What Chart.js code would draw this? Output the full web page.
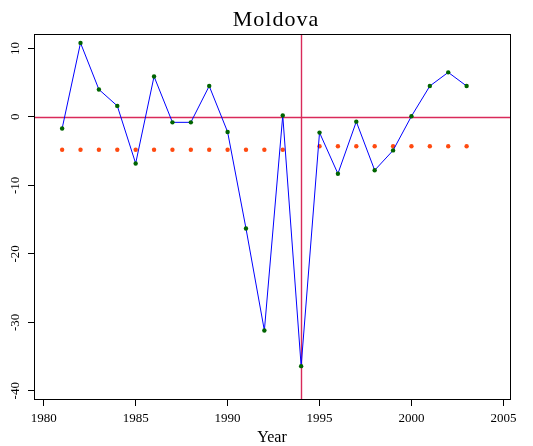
<!DOCTYPE html>
<html>
<head>
<meta charset="utf-8">
<script src="https://cdn.jsdelivr.net/npm/chart.js@4/dist/chart.umd.min.js"></script>
<style>
  html, body { margin: 0; padding: 0; background: #fff; }
  #wrap { width: 533px; height: 446px; }
</style>
</head>
<body>
<div id="wrap"><canvas id="c" width="533" height="446"></canvas></div>
<script>
// Annual growth series, Moldova
const chartTitle = 'Moldova';
const years = [1981, 1982, 1983, 1984, 1985, 1986, 1987, 1988, 1989, 1990, 1991, 1992,
               1993, 1994, 1995, 1996, 1997, 1998, 1999, 2000, 2001, 2002, 2003];
const growth = [-1.7, 10.8, 4.0, 1.6, -6.8, 5.9, -0.8, -0.8, 4.5, -2.2, -16.3, -31.2,
                0.2, -36.4, -2.3, -8.3, -0.7, -7.8, -4.9, 0.1, 4.5, 6.5, 4.5];

// Period averages before and after the break year
const yearsBefore = [1981, 1982, 1983, 1984, 1985, 1986, 1987, 1988, 1989, 1990, 1991, 1992, 1993];
const meanBefore = [-4.8, -4.8, -4.8, -4.8, -4.8, -4.8, -4.8, -4.8, -4.8, -4.8, -4.8, -4.8, -4.8];
const yearsAfter = [1995, 1996, 1997, 1998, 1999, 2000, 2001, 2002, 2003];
const meanAfter = [-4.3, -4.3, -4.3, -4.3, -4.3, -4.3, -4.3, -4.3, -4.3];

const breakYear = 1994;
const xTicks = [1980, 1985, 1990, 1995, 2000, 2005];
const yTicks = [-40, -30, -20, -10, 0, 10];

const serif = 'Liberation Serif, Times New Roman, serif';

const toPoints = (xs, ys) => xs.map((x, i) => ({ x: x, y: ys[i] }));

// Red reference lines: zero growth and the break year
const refLines = {
  id: 'refLines',
  beforeDatasetsDraw(chart) {
    const { ctx, chartArea: a, scales: { x, y } } = chart;
    ctx.save();
    ctx.beginPath();
    ctx.rect(a.left, a.top, a.right - a.left, a.bottom - a.top);
    ctx.clip();
    ctx.strokeStyle = '#d92a5a';
    ctx.lineWidth = 1.4;
    const px = Math.round(x.getPixelForValue(breakYear)) + 0.5;
    const py = Math.round(y.getPixelForValue(0)) + 0.5;
    ctx.beginPath();
    ctx.moveTo(px, a.top); ctx.lineTo(px, a.bottom);
    ctx.moveTo(a.left, py); ctx.lineTo(a.right, py);
    ctx.stroke();
    ctx.restore();
  }
};

// Box around the plot region and the heading
const frameAndTitle = {
  id: 'frameAndTitle',
  afterDraw(chart) {
    const { ctx, chartArea: a } = chart;
    ctx.save();
    ctx.strokeStyle = '#000';
    ctx.lineWidth = 1;
    ctx.strokeRect(Math.round(a.left) + 0.5, Math.round(a.top) + 0.5,
                   Math.round(a.right - a.left), Math.round(a.bottom - a.top));
    ctx.fillStyle = '#000';
    ctx.font = '22px ' + serif;
    ctx.textAlign = 'center';
    ctx.textBaseline = 'alphabetic';
    if ('letterSpacing' in ctx) ctx.letterSpacing = '1px';
    ctx.fillText(chartTitle, 276, 26);
    ctx.restore();
  }
};

new Chart(document.getElementById('c'), {
  type: 'line',
  data: {
    datasets: [
      {
        data: toPoints(years, growth),
        borderColor: '#0000ff',
        borderWidth: 1,
        pointRadius: 2.2,
        pointBackgroundColor: '#006400',
        pointBorderColor: '#006400',
        pointBorderWidth: 0,
        tension: 0,
        fill: false
      },
      {
        data: toPoints(yearsBefore, meanBefore),
        showLine: false,
        pointRadius: 2.2,
        pointBackgroundColor: '#ff4a10',
        pointBorderColor: '#ff4a10',
        pointBorderWidth: 0
      },
      {
        data: toPoints(yearsAfter, meanAfter),
        showLine: false,
        pointRadius: 2.2,
        pointBackgroundColor: '#ff4a10',
        pointBorderColor: '#ff4a10',
        pointBorderWidth: 0
      }
    ]
  },
  options: {
    responsive: false,
    animation: false,
    devicePixelRatio: 1,
    layout: { padding: { top: 34, right: 23, left: 0, bottom: 0 } },
    plugins: { legend: { display: false }, tooltip: { enabled: false }, title: { display: false } },
    scales: {
      x: {
        type: 'linear',
        min: 1979.47,
        max: 2005.36,
        afterBuildTicks: s => { s.ticks = xTicks.map(v => ({ value: v })); },
        afterFit: s => { s.height = 47; },
        grid: { display: true, drawOnChartArea: false, drawTicks: true, tickLength: 7, color: '#000', lineWidth: 1 },
        border: { display: true, color: '#000', width: 1 },
        ticks: {
          autoSkip: false, minRotation: 0, maxRotation: 0, color: '#000', padding: 5,
          font: { family: serif, size: 13 },
          callback: v => String(v)
        },
        title: {
          display: true, text: 'Year', color: '#000',
          font: { family: serif, size: 16 }, padding: { top: 0, bottom: -1.5 }
        }
      },
      y: {
        type: 'linear',
        min: -41.2,
        max: 12.1,
        afterBuildTicks: s => { s.ticks = yTicks.map(v => ({ value: v })); },
        afterFit: s => { s.width = 34; },
        grid: { display: true, drawOnChartArea: false, drawTicks: true, tickLength: 6, color: '#000', lineWidth: 1 },
        border: { display: true, color: '#000', width: 1 },
        ticks: {
          autoSkip: false, minRotation: 90, maxRotation: 90, crossAlign: 'center',
          color: '#000', padding: 4,
          font: { family: serif, size: 13 },
          callback: v => String(v)
        }
      }
    }
  },
  plugins: [refLines, frameAndTitle]
});
</script>
</body>
</html>
